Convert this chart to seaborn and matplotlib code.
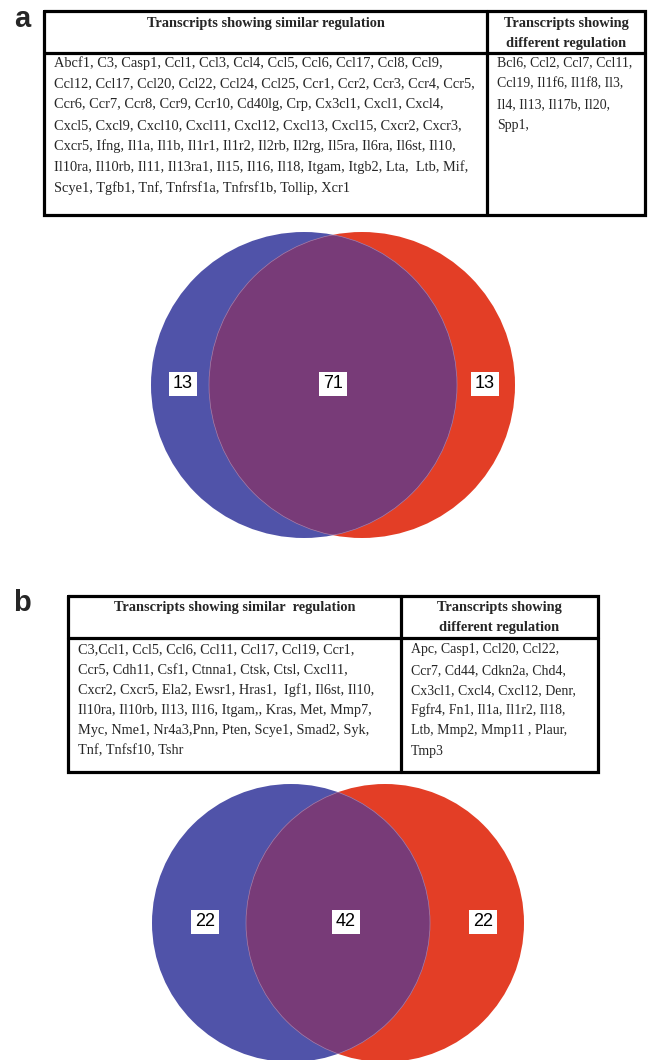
import matplotlib
matplotlib.use("Agg")
import matplotlib.pyplot as plt
from matplotlib.patches import Circle
import seaborn as sns

sns.set_theme(style="white")
plt.rcParams["font.family"] = ["Liberation Serif", "DejaVu Serif"]

# ---- data -------------------------------------------------------------
panel_labels = ["a", "b"]

header_similar_a = "Transcripts showing similar regulation"
header_similar_b = "Transcripts showing similar  regulation"
header_different = ["Transcripts showing", "different regulation"]

similar_a = [
    "Abcf1, C3, Casp1, Ccl1, Ccl3, Ccl4, Ccl5, Ccl6, Ccl17, Ccl8, Ccl9,",
    "Ccl12, Ccl17, Ccl20, Ccl22, Ccl24, Ccl25, Ccr1, Ccr2, Ccr3, Ccr4, Ccr5,",
    "Ccr6, Ccr7, Ccr8, Ccr9, Ccr10, Cd40lg, Crp, Cx3cl1, Cxcl1, Cxcl4,",
    "Cxcl5, Cxcl9, Cxcl10, Cxcl11, Cxcl12, Cxcl13, Cxcl15, Cxcr2, Cxcr3,",
    "Cxcr5, Ifng, Il1a, Il1b, Il1r1, Il1r2, Il2rb, Il2rg, Il5ra, Il6ra, Il6st, Il10,",
    "Il10ra, Il10rb, Il11, Il13ra1, Il15, Il16, Il18, Itgam, Itgb2, Lta,  Ltb, Mif,",
    "Scye1, Tgfb1, Tnf, Tnfrsf1a, Tnfrsf1b, Tollip, Xcr1",
]
different_a = [
    "Bcl6, Ccl2, Ccl7, Ccl11,",
    "Ccl19, Il1f6, Il1f8, Il3,",
    "Il4, Il13, Il17b, Il20,",
    "Spp1,",
]
similar_b = [
    "C3,Ccl1, Ccl5, Ccl6, Ccl11, Ccl17, Ccl19, Ccr1,",
    "Ccr5, Cdh11, Csf1, Ctnna1, Ctsk, Ctsl, Cxcl11,",
    "Cxcr2, Cxcr5, Ela2, Ewsr1, Hras1,  Igf1, Il6st, Il10,",
    "Il10ra, Il10rb, Il13, Il16, Itgam,, Kras, Met, Mmp7,",
    "Myc, Nme1, Nr4a3,Pnn, Pten, Scye1, Smad2, Syk,",
    "Tnf, Tnfsf10, Tshr",
]
different_b = [
    "Apc, Casp1, Ccl20, Ccl22,",
    "Ccr7, Cd44, Cdkn2a, Chd4,",
    "Cx3cl1, Cxcl4, Cxcl12, Denr,",
    "Fgfr4, Fn1, Il1a, Il1r2, Il18,",
    "Ltb, Mmp2, Mmp11 , Plaur,",
    "Tmp3",
]

# Venn region counts: only-left, shared, only-right
venn_a = [13, 71, 13]
venn_b = [22, 42, 22]

# ---- style ------------------------------------------------------------
BLUE = "#5053a9"
RED = "#e33e26"
PURPLE = "#783b78"
W, H = 649, 1060

fig = plt.figure(figsize=(W / 100, H / 100), dpi=100)
ax = fig.add_axes([0, 0, 1, 1])
ax.set_xlim(0, W)
ax.set_ylim(H, 0)
ax.axis("off")


def draw_table(left, divider, right, top, sep, bottom,
               head_left, head_left_y, head_right_y,
               body_left, body_right, body_y0, body_dy,
               size_left, size_right):
    lw = 2.3
    ax.plot([left, right, right, left, left], [top, top, bottom, bottom, top],
            color="black", lw=lw, solid_joinstyle="miter")
    ax.plot([left, right], [sep, sep], color="black", lw=lw)
    ax.plot([divider, divider], [top, bottom], color="black", lw=lw)
    ax.text((left + divider) / 2, head_left_y, head_left, ha="center",
            va="center", fontsize=10.4, fontweight="bold")
    for k, line in enumerate(header_different):
        ax.text((divider + right) / 2, head_right_y[k], line, ha="center",
                va="center", fontsize=10.4, fontweight="bold")
    for k, line in enumerate(body_left):
        ax.text(left + 10, body_y0 + k * body_dy, line, ha="left",
                va="center", fontsize=size_left)
    for k, line in enumerate(body_right):
        ax.text(divider + 10, body_y0 + k * body_dy, line, ha="left",
                va="center", fontsize=size_right)


def draw_venn(cx_left, cx_right, cy, r, counts, label_x):
    c_left = Circle((cx_left, cy), r, facecolor=BLUE, edgecolor="none")
    c_right = Circle((cx_right, cy), r, facecolor=RED, edgecolor="none")
    ax.add_patch(c_left)
    ax.add_patch(c_right)
    clip = Circle((cx_left, cy), r, facecolor="none", edgecolor="none")
    ax.add_patch(clip)
    lens = Circle((cx_right, cy), r, facecolor=PURPLE,
                  edgecolor="#9c80b3", lw=0.5)
    ax.add_patch(lens)
    lens.set_clip_path(clip)
    lens_edge = Circle((cx_left, cy), r, facecolor="none",
                       edgecolor="#9c80b3", lw=0.5)
    ax.add_patch(lens_edge)
    lens_edge.set_clip_path(Circle((cx_right, cy), r, transform=ax.transData))
    for x, n in zip(label_x, counts):
        ax.text(x, cy - 1, str(n), ha="center", va="center", fontsize=13,
                family=["Liberation Sans", "DejaVu Sans"], color="black",
                bbox=dict(boxstyle="square,pad=0.22", facecolor="white",
                          edgecolor="none"))


# panel a
ax.text(22, 19, panel_labels[0], ha="center", va="center", fontsize=21,
        fontweight="bold", family=["Liberation Sans", "DejaVu Sans"])
draw_table(44, 487, 645, 11, 53, 215, header_similar_a, 23, [23, 44],
           similar_a, different_a, 63, 20.9, 10.35, 10.0)
draw_venn(304, 362, 385, 153, venn_a, [183, 333, 485])

# panel b
ax.text(22, 603, panel_labels[1], ha="center", va="center", fontsize=21,
        fontweight="bold", family=["Liberation Sans", "DejaVu Sans"])
draw_table(68, 401, 598, 596, 638, 772, header_similar_b, 608, [608, 628],
           similar_b, different_b, 650, 20.2, 10.3, 10.0)
draw_venn(291, 385, 923, 139, venn_b, [205, 346, 483])

fig.savefig("out.png", dpi=100)
